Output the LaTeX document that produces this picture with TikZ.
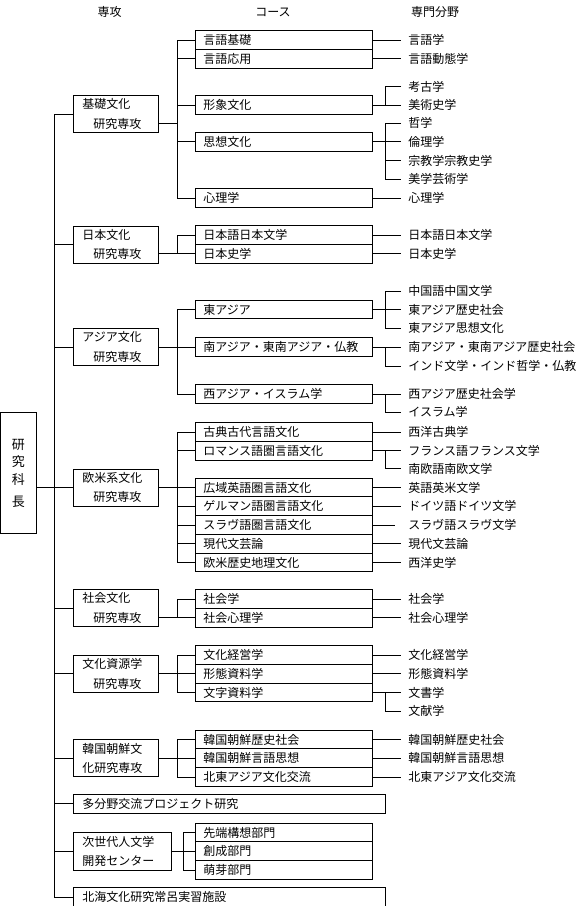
\documentclass[tikz,border=0pt]{standalone}
\usepackage{fontspec}
\setmainfont{Noto Sans CJK JP}

\tikzset{
  grp/.style={draw, anchor=west, text width=67pt, inner xsep=9pt, inner ysep=0pt, minimum height=37pt, align=left},
  wide/.style={text width=294pt, minimum height=19pt},
  crs/.style={draw, anchor=west, text width=161pt, inner xsep=8pt, inner ysep=0pt, minimum height=18.75pt, align=left},
  fld/.style={anchor=west, inner xsep=7pt, inner ysep=0pt},
  hdr/.style={inner sep=0pt}
}

\begin{document}
\begin{tikzpicture}[x=1pt, y=-1pt, line width=0.9pt, font=\fontsize{12}{19.5}\selectfont]
\useasboundingbox (0,0) rectangle (583,906);

% headers
\node[hdr] (h1) at (109.5,12) {専攻};
\node[hdr] (h2) at (273,12) {コース};
\node[hdr] (h3) at (435,12) {専門分野};

% dean
\node[draw, minimum width=36pt, minimum height=121pt, inner sep=0pt, align=center,
  font=\fontsize{13}{17.5}\selectfont] (dean) at (18.5,473.4) {研\\究\\科\\[5pt]長};

% divisions
\node[grp] (kiso) at (73,114) {基礎文化\\\hspace*{11pt}研究専攻};
\node[grp] (nihon) at (73,244.5) {日本文化\\\hspace*{11pt}研究専攻};
\node[grp] (asia) at (73,347) {アジア文化\\\hspace*{11pt}研究専攻};
\node[grp] (obei) at (73,487.5) {欧米系文化\\\hspace*{11pt}研究専攻};
\node[grp] (shakai) at (73,608) {社会文化\\\hspace*{11pt}研究専攻};
\node[grp] (shigen) at (73,673.75) {文化資源学\\\hspace*{11pt}研究専攻};
\node[grp] (kankoku) at (73,758.25) {韓国朝鮮文\\化研究専攻};
\node[grp, wide] (tabunya) at (73,803.5) {多分野交流プロジェクト研究};
\node[grp, text width=80pt, minimum height=38pt] (jisedai) at (73,851.25) {次世代人文学\\開発センター};
\node[grp, wide, minimum height=20pt] (hokkai) at (73,897) {北海文化研究常呂実習施設};

% courses
\node[crs] (gk) at (195,40) {言語基礎};
\node[crs] (go) at (195,58.75) {言語応用};
\node[crs] (ks) at (195,105) {形象文化};
\node[crs] (ss) at (195,141.75) {思想文化};
\node[crs] (sr) at (195,198) {心理学};

\node[crs] (nb) at (195,235) {日本語日本文学};
\node[crs] (ns) at (195,253.75) {日本史学};

\node[crs] (ea) at (195,309.5) {東アジア};
\node[crs] (sa) at (195,347) {南アジア・東南アジア・仏教};
\node[crs] (wa) at (195,394) {西アジア・イスラム学};

\node[crs] (o1) at (195,432) {古典古代言語文化};
\node[crs] (o2) at (195,450.75) {ロマンス語圏言語文化};
\node[crs] (o3) at (195,487.5) {広域英語圏言語文化};
\node[crs] (o4) at (195,506.25) {ゲルマン語圏言語文化};
\node[crs] (o5) at (195,525) {スラヴ語圏言語文化};
\node[crs] (o6) at (195,543.75) {現代文芸論};
\node[crs] (o7) at (195,562.5) {欧米歴史地理文化};

\node[crs] (sh1) at (195,599) {社会学};
\node[crs] (sh2) at (195,617.75) {社会心理学};

\node[crs] (sg1) at (195,655) {文化経営学};
\node[crs] (sg2) at (195,673.75) {形態資料学};
\node[crs] (sg3) at (195,692.5) {文字資料学};

\node[crs] (kk1) at (195,739.5) {韓国朝鮮歴史社会};
\node[crs] (kk2) at (195,758.25) {韓国朝鮮言語思想};
\node[crs] (kk3) at (195,777) {北東アジア文化交流};

\node[crs] (j1) at (195,832.5) {先端構想部門};
\node[crs] (j2) at (195,851.25) {創成部門};
\node[crs] (j3) at (195,870) {萌芽部門};

% fields
\node[fld] (fa1) at (401,40) {言語学};
\node[fld] (fa2) at (401,58.75) {言語動態学};
\node[fld] (fa3) at (401,86.5) {考古学};
\node[fld] (fa4) at (401,105) {美術史学};
\node[fld] (fa5) at (401,123) {哲学};
\node[fld] (fa6) at (401,141.75) {倫理学};
\node[fld] (fa7) at (401,160.5) {宗教学宗教史学};
\node[fld] (fa8) at (401,179.3) {美学芸術学};
\node[fld] (fa9) at (401,198) {心理学};

\node[fld] (fb1) at (401,235) {日本語日本文学};
\node[fld] (fb2) at (401,253.75) {日本史学};

\node[fld] (fc1) at (401,291) {中国語中国文学};
\node[fld] (fc2) at (401,309.5) {東アジア歴史社会};
\node[fld] (fc3) at (401,328) {東アジア思想文化};
\node[fld] (fc4) at (401,347) {南アジア・東南アジア歴史社会};
\node[fld] (fc5) at (401,366) {インド文学・インド哲学・仏教};
\node[fld] (fc6) at (401,394) {西アジア歴史社会学};
\node[fld] (fc7) at (401,412) {イスラム学};

\node[fld] (fd1) at (401,432) {西洋古典学};
\node[fld] (fd2) at (401,450.75) {フランス語フランス文学};
\node[fld] (fd3) at (401,468.5) {南欧語南欧文学};
\node[fld] (fd4) at (401,487.5) {英語英米文学};
\node[fld] (fd5) at (401,506.25) {ドイツ語ドイツ文学};
\node[fld] (fd6) at (401,525) {スラヴ語スラヴ文学};
\node[fld] (fd7) at (401,543.75) {現代文芸論};
\node[fld] (fd8) at (401,562.5) {西洋史学};

\node[fld] (fe1) at (401,599) {社会学};
\node[fld] (fe2) at (401,617.75) {社会心理学};

\node[fld] (ff1) at (401,655) {文化経営学};
\node[fld] (ff2) at (401,673.75) {形態資料学};
\node[fld] (ff3) at (401,692.5) {文書学};
\node[fld] (ff4) at (401,711) {文献学};

\node[fld] (fg1) at (401,739.5) {韓国朝鮮歴史社会};
\node[fld] (fg2) at (401,758.25) {韓国朝鮮言語思想};
\node[fld] (fg3) at (401,777) {北東アジア文化交流};

% bus lines
\coordinate (tr) at (54,0);
\coordinate (bx) at (177,0);
\coordinate (jx) at (183,0);
\coordinate (sb) at (385,0);

% trunk
\draw (kiso.west) -| (tr |- hokkai.west) -- (hokkai.west);
\draw (tr |- nihon.west) -- (nihon.west);
\draw (tr |- asia.west) -- (asia.west);
\draw (dean.east |- obei.west) -- (obei.west);
\draw (tr |- shakai.west) -- (shakai.west);
\draw (tr |- shigen.west) -- (shigen.west);
\draw (tr |- kankoku.west) -- (kankoku.west);
\draw (tr |- tabunya.west) -- (tabunya.west);
\draw (tr |- jisedai.west) -- (jisedai.west);

% division -> course
\coordinate (kj) at (177,123);
\draw (kiso.east |- kj) -- (kj);
\draw (gk.west) -| (bx |- sr.west) -- (sr.west);
\draw (bx |- go.west) -- (go.west);
\draw (bx |- ks.west) -- (ks.west);
\draw (bx |- ss.west) -- (ss.west);

\draw (nb.west) -| (bx |- ns.west) -- (ns.west);
\draw (nihon.east |- ns.west) -- (bx |- ns.west);

\draw (ea.west) -| (bx |- wa.west) -- (wa.west);
\draw (asia.east) -- (sa.west);

\draw (o1.west) -| (bx |- o7.west) -- (o7.west);
\draw (bx |- o2.west) -- (o2.west);
\draw (obei.east) -- (o3.west);
\draw (bx |- o4.west) -- (o4.west);
\draw (bx |- o5.west) -- (o5.west);
\draw (bx |- o6.west) -- (o6.west);

\draw (sh1.west) -| (bx |- sh2.west) -- (sh2.west);
\draw (shakai.east |- sh2.west) -- (bx |- sh2.west);

\draw (sg1.west) -| (bx |- sg3.west) -- (sg3.west);
\draw (shigen.east) -- (sg2.west);

\draw (kk1.west) -| (bx |- kk3.west) -- (kk3.west);
\draw (kankoku.east) -- (kk2.west);

\draw (j1.west) -| (jx |- j3.west) -- (j3.west);
\draw (jisedai.east) -- (j2.west);

% course -> field
\draw (gk.east) -- (fa1.west);
\draw (go.east) -- (fa2.west);
\draw (ks.east) -- (fa4.west);
\draw (fa3.west) -| (sb |- fa4.west);
\draw (ss.east) -- (fa6.west);
\draw (fa5.west) -| (sb |- fa8.west) -- (fa8.west);
\draw (sb |- fa7.west) -- (fa7.west);
\draw (sr.east) -- (fa9.west);

\draw (nb.east) -- (fb1.west);
\draw (ns.east) -- (fb2.west);

\draw (ea.east) -- (fc2.west);
\draw (fc1.west) -| (sb |- fc3.west) -- (fc3.west);
\draw (sa.east) -- (fc4.west);
\draw (sb |- fc4.west) |- (fc5.west);
\draw (wa.east) -- (fc6.west);
\draw (sb |- fc6.west) |- (fc7.west);

\draw (o1.east) -- (fd1.west);
\draw (o2.east) -- (fd2.west);
\draw (sb |- fd2.west) |- (fd3.west);
\draw (o3.east) -- (fd4.west);
\draw (o4.east) -- (fd5.west);
\draw[shorten >=6pt] (o5.east) -- (fd6.west);
\draw (o6.east) -- (fd7.west);
\draw (o7.east) -- (fd8.west);

\draw (sh1.east) -- (fe1.west);
\draw (sh2.east) -- (fe2.west);

\draw (sg1.east) -- (ff1.west);
\draw (sg2.east) -- (ff2.west);
\draw (sg3.east) -- (ff3.west);
\draw (sb |- ff3.west) |- (ff4.west);

\draw (kk1.east) -- (fg1.west);
\draw (kk2.east) -- (fg2.west);
\draw (kk3.east) -- (fg3.west);
\end{tikzpicture}
\end{document}
